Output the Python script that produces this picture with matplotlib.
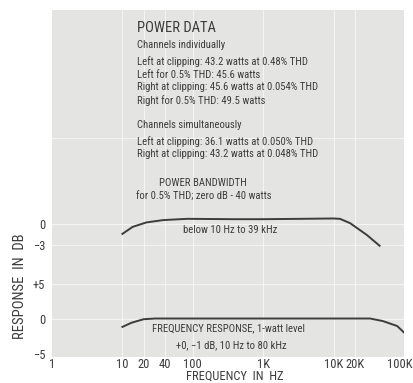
import numpy as np
import matplotlib.pyplot as plt
from matplotlib import font_manager
from matplotlib.transforms import ScaledTranslation

# Power bandwidth curve (dB re 40 W), drawn in the upper panel
pb_freq = [10, 14, 22, 38, 83, 370, 1000, 3300, 10000, 12300, 17100, 29800, 45000]
pb_db = [-1.4, -0.4, 0.24, 0.57, 0.75, 0.7, 0.7, 0.75, 0.8, 0.75, 0.14, -1.57, -3.1]

# Frequency response at 1 watt, lower panel
fr_freq = [10, 13.5, 20, 29, 100, 1000, 10000, 33000, 50000, 80000, 100000]
fr_db = [-1.2, -0.6, -0.1, 0.0, 0.0, 0.0, 0.0, 0.0, -0.36, -1.07, -2.0]

upper_offset = 13.5   # where the upper panel's 0 dB sits on the shared axis

xticks = [1, 10, 20, 40, 100, 1000, 10000, 20000, 100000]
xtick_labels = ["1", "10", "20", "40", "100", "1K", "10K", "20K", "100K"]
yticks = [upper_offset, upper_offset - 3, 5, 0, -5]
ytick_labels = ["0", "\u22123", "+5", "0", "\u22125"]

power_lines = [
    "Left at clipping: 43.2 watts at 0.48% THD",
    "Left for 0.5% THD: 45.6 watts",
    "Right at clipping: 45.6 watts at 0.054% THD",
    "Right for 0.5% THD: 49.5 watts",
]
simul_lines = [
    "Left at clipping: 36.1 watts at 0.050% THD",
    "Right at clipping: 43.2 watts at 0.048% THD",
]

# look for a narrow face; the original is set in a condensed gothic
names = {f.name for f in font_manager.fontManager.ttflist}
stretch = 'normal'
scale = 0.82
family = 'DejaVu Sans'
for cand in ['Liberation Sans Narrow', 'Roboto Condensed', 'Open Sans Condensed',
             'Noto Sans Condensed', 'DejaVu Sans Condensed']:
    if cand in names:
        family, scale = cand, 1.0
        break
else:
    cond = [f for f in font_manager.fontManager.ttflist
            if f.name == 'DejaVu Sans' and f.stretch == 'condensed']
    if cond:
        stretch, scale = 'condensed', 0.95

plt.rcParams['font.family'] = [family, 'DejaVu Sans']
plt.rcParams['font.stretch'] = stretch
ink = "#3c3c3c"
bg = "#e4e4e2"
fs_small = 7.7 * scale
fs_big = 10.5 * scale
fs_tick = 9 * scale

fig = plt.figure(figsize=(4.14, 3.83), dpi=100)
ax = fig.add_axes([52 / 414, 26 / 383, 352 / 414, 347 / 383])
ax.set_facecolor(bg)
for s in ax.spines.values():
    s.set_visible(False)

ax.set_xscale('log')
ax.set_xlim(1, 100000)
ax.set_ylim(-5.5, 44.1)

# faint white grid
for f in [10, 20, 40, 100, 1000, 10000, 20000]:
    ax.axvline(f, color='white', lw=0.8, alpha=0.6, zorder=1)
for y in [upper_offset, upper_offset - 3, 5, 0, 25.8]:
    ax.axhline(y, color='white', lw=0.8, alpha=0.6, zorder=1)

ax.plot(pb_freq, np.array(pb_db) + upper_offset, color=ink, lw=1.4, zorder=3)
ax.plot(fr_freq, fr_db, color=ink, lw=1.4, zorder=3)

ax.set_xticks(xticks)
ax.set_xticklabels(xtick_labels)
ax.xaxis.set_minor_locator(plt.NullLocator())
ax.set_yticks(yticks)
ax.set_yticklabels(ytick_labels)
ax.tick_params(length=0, labelsize=fs_tick, colors=ink)
ax.tick_params(axis='x', pad=1)
ax.tick_params(axis='y', pad=5)
last = ax.get_xticklabels()[-1]
last.set_ha('right')
last.set_transform(last.get_transform() + ScaledTranslation(9 / 100, 0, fig.dpi_scale_trans))

tx = (137 - 52) / 352
ax.text(tx, 0.948, "POWER DATA", transform=ax.transAxes, fontsize=fs_big,
        color=ink, va='center')
ax.text(tx, 0.899, "Channels individually", transform=ax.transAxes,
        fontsize=fs_small, color=ink, va='center')
for i, line in enumerate(power_lines):
    ax.text(tx, 0.851 - i * 0.037, line, transform=ax.transAxes,
            fontsize=fs_small, color=ink, va='center')
ax.text(tx, 0.669, "Channels simultaneously", transform=ax.transAxes,
        fontsize=fs_small, color=ink, va='center')
for i, line in enumerate(simul_lines):
    ax.text(tx, 0.621 - i * 0.037, line, transform=ax.transAxes,
            fontsize=fs_small, color=ink, va='center')

ax.text(0.429, 0.501, "POWER BANDWIDTH", transform=ax.transAxes,
        fontsize=fs_small, color=ink, ha='center', va='center')
ax.text(0.432, 0.461, "for 0.5% THD; zero dB - 40 watts", transform=ax.transAxes,
        fontsize=fs_small, color=ink, ha='center', va='center')
ax.text(0.506, 0.366, "below 10 Hz to 39 kHz", transform=ax.transAxes,
        fontsize=fs_small, color=ink, ha='center', va='center')
ax.text(0.5, 0.084, "FREQUENCY RESPONSE, 1-watt level", transform=ax.transAxes,
        fontsize=fs_small, color=ink, ha='center', va='center')
ax.text(0.508, 0.035, "+0, \u22121 dB, 10 Hz to 80 kHz", transform=ax.transAxes,
        fontsize=fs_small, color=ink, ha='center', va='center')

fig.text(20 / 414, 1 - 286 / 383, "RESPONSE  IN  DB", rotation=90,
         fontsize=10.5 * scale, color=ink, ha='center', va='center')
fig.text(235 / 414, 1 - 376.5 / 383, "FREQUENCY  IN  HZ",
         fontsize=9 * scale, color=ink, ha='center', va='center')

fig.savefig("out.png", dpi=100)
